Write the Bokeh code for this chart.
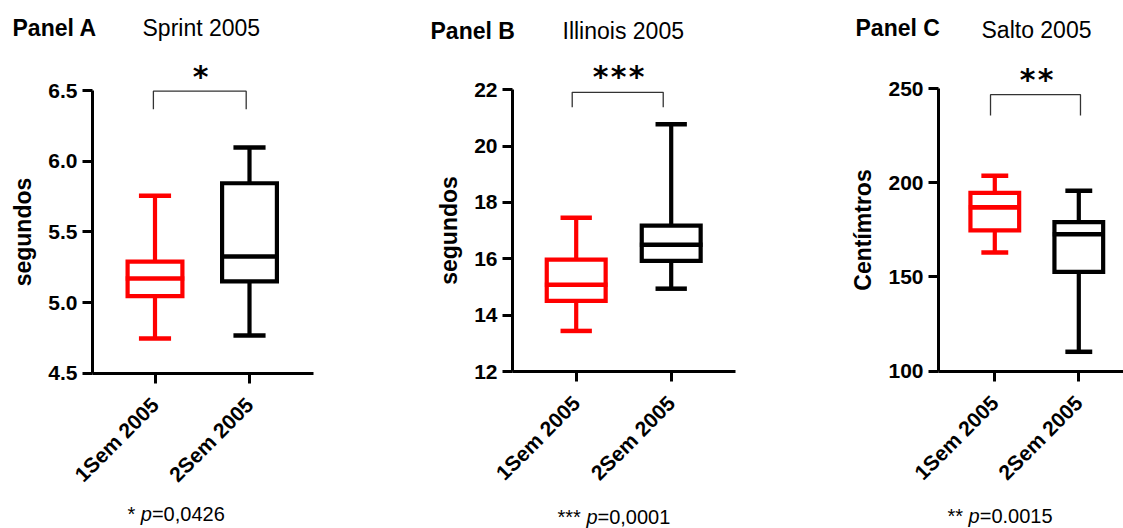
from bokeh.plotting import figure
from bokeh.models import Label, FixedTicker, Range1d
from bokeh.layouts import row
from bokeh.embed import file_html
from bokeh.resources import INLINE

# ---------------- data ----------------
groups = ["1Sem 2005", "2Sem 2005"]
group_x = [1, 2]
colors = ["#FF0000", "#000000"]

sprint_min = [4.745, 4.767]
sprint_q1 = [5.045, 5.149]
sprint_med = [5.170, 5.326]
sprint_q3 = [5.290, 5.844]
sprint_max = [5.755, 6.097]

illinois_min = [13.44, 14.94]
illinois_q1 = [14.51, 15.93]
illinois_med = [15.08, 16.50]
illinois_q3 = [15.97, 17.18]
illinois_max = [17.46, 20.78]

salto_min = [163.0, 110.3]
salto_q1 = [174.7, 152.7]
salto_med = [186.9, 172.7]
salto_q3 = [194.6, 179.1]
salto_max = [203.7, 195.7]

sprint_ticks = [4.5, 5.0, 5.5, 6.0, 6.5]
illinois_ticks = [12, 14, 16, 18, 20, 22]
salto_ticks = [100, 150, 200, 250]

panel_names = ["Panel A", "Panel B", "Panel C"]
panel_titles = ["Sprint 2005", "Illinois 2005", "Salto 2005"]
y_labels = ["segundos", "segundos", "Centímtros"]
stars = ["*", "***", "**"]
footnote_values = ["=0,0426", "=0,0001", "=0.0015"]

FONT = "Liberation Sans"
H = 528


def add_text(p, ox, px, py, text, size, style="normal", font=FONT, align="left"):
    # py is the desired visual baseline; compensate the renderer's baseline shift
    p.add_layout(Label(x=px - ox, y=H - py + 0.43 * size, x_units="screen", y_units="screen",
                       text=text, text_font=font, text_font_size=f"{size}px",
                       text_font_style=style, text_align=align,
                       text_baseline="alphabetic", text_color="black"))


def make_panel(cfg, mins, q1, med, q3, maxs, ticks, fmt):
    W, ox = cfg["width"], cfg["ox"]
    sx = cfg["spacing"]
    x_start = 1 - (cfg["cat1_px"] - ox) / sx
    x_end = x_start + W / sx

    def xd(px):
        return x_start + (px - ox) / sx

    v_lo, p_lo = ticks[0], cfg["ylo_px"]
    v_hi, p_hi = ticks[-1], cfg["yhi_px"]
    sy = (p_lo - p_hi) / (v_hi - v_lo)
    y_start = v_lo - (H - p_lo) / sy
    y_end = y_start + H / sy

    p = figure(width=W, height=H, output_backend="svg", toolbar_location=None,
               x_range=Range1d(x_start, x_end), y_range=Range1d(y_start, y_end),
               min_border=0, min_border_left=0, min_border_right=0,
               min_border_top=0, min_border_bottom=0,
               outline_line_color=None, background_fill_color="white",
               border_fill_color="white")
    p.xgrid.visible = False
    p.ygrid.visible = False

    bw = cfg["box_w"]
    cw = cfg["cap_w"]
    lw = 4.2
    for i in range(2):
        x = group_x[i]
        c = colors[i]
        p.segment(x0=[x, x], y0=[q3[i], q1[i]], x1=[x, x], y1=[maxs[i], mins[i]],
                  line_color=c, line_width=lw)
        p.segment(x0=[x - cw / 2, x - cw / 2], y0=[maxs[i], mins[i]],
                  x1=[x + cw / 2, x + cw / 2], y1=[maxs[i], mins[i]],
                  line_color=c, line_width=lw + 0.3)
        p.quad(left=[x - bw / 2], right=[x + bw / 2], top=[q3[i]], bottom=[q1[i]],
               fill_color="white", line_color=c, line_width=lw, line_join="miter")
        p.segment(x0=[x - bw / 2 - 0.02], y0=[med[i]], x1=[x + bw / 2 + 0.02], y1=[med[i]],
                  line_color=c, line_width=lw + 0.4)

    # significance bracket
    bx1, bx2 = cfg["br_x"]
    byt, byl = cfg["br_y"]
    p.line(x=[bx1, bx1, bx2, bx2], y=[byl, byt, byt, byl], line_color="#333333",
           line_width=1.3)

    # axes (drawn at fixed locations inside the frame)
    for ax in (p.xaxis, p.yaxis):
        ax.axis_line_width = 3
        ax.axis_line_color = "black"
        ax.major_tick_line_width = 3
        ax.major_tick_line_color = "black"
        ax.major_tick_in = 0
        ax.major_tick_out = 10
        ax.minor_tick_line_color = None
        ax.major_label_text_font = FONT
        ax.major_label_text_font_style = "bold"
        ax.major_label_text_font_size = "21px"
        ax.major_label_text_color = "black"
    p.yaxis.fixed_location = xd(cfg["yaxis_px"])
    p.yaxis.bounds = (v_lo, v_hi)
    p.yaxis.ticker = FixedTicker(ticks=ticks)
    p.yaxis.major_label_overrides = {t: fmt.format(t) for t in ticks}
    p.yaxis.major_label_standoff = 5
    p.yaxis.axis_label = cfg["ylabel"]
    p.yaxis.axis_label_text_font = FONT
    p.yaxis.axis_label_text_font_style = "bold"
    p.yaxis.axis_label_text_font_size = "23px"
    p.yaxis.axis_label_text_color = "black"
    p.yaxis.axis_label_standoff = 9

    p.xaxis.fixed_location = v_lo
    p.xaxis.bounds = (xd(cfg["yaxis_px"]), min(xd(cfg["xend_px"]), x_end))
    p.xaxis.ticker = FixedTicker(ticks=group_x)
    p.xaxis.major_label_overrides = {group_x[i]: groups[i] for i in range(2)}
    p.xaxis.major_label_orientation = 0.7854
    p.xaxis.major_label_standoff = 18

    # titles
    add_text(p, ox, cfg["name_xy"][0], cfg["name_xy"][1], cfg["name"], 23, "bold")
    add_text(p, ox, cfg["title_xy"][0], cfg["title_xy"][1], cfg["title"], 23)
    # stars above bracket
    n = len(cfg["stars"])
    cx, cy = cfg["star_xy"]
    for k in range(n):
        add_text(p, ox, cx + (k - (n - 1) / 2) * 18, cy, "*", 30, "bold",
                 font="DejaVu Sans", align="center")
    # footnote: stars, italic p, value
    fx, fy = cfg["foot_xy"]
    sw = (n * 0.389 + 0.278) * 20
    add_text(p, ox, fx, fy, cfg["stars"], 20)
    add_text(p, ox, fx + sw, fy, "p", 20, "italic")
    add_text(p, ox, fx + sw + 11.1, fy, cfg["fval"], 20)
    return p


cfgA = dict(width=420, ox=0, cat1_px=154.5, spacing=94.5, yaxis_px=92, xend_px=313,
            ylo_px=372.7, yhi_px=90.0,
            box_w=0.58, cap_w=0.34, br_x=(0.983, 1.965), br_y=(6.495, 6.367),
            ylabel=y_labels[0], name=panel_names[0], title=panel_titles[0],
            name_xy=(12, 37), title_xy=(142, 37), star_xy=(200, 89), stars=stars[0],
            foot_xy=(127, 522), fval=footnote_values[0])
cfgB = dict(width=425, ox=420, cat1_px=575.7, spacing=95.0, yaxis_px=512, xend_px=735,
            ylo_px=371.0, yhi_px=89.3,
            box_w=0.62, cap_w=0.33, br_x=(0.958, 1.916), br_y=(21.91, 21.38),
            ylabel=y_labels[1], name=panel_names[1], title=panel_titles[1],
            name_xy=(430, 40), title_xy=(562, 40), star_xy=(618, 89), stars=stars[1],
            foot_xy=(557, 525), fval=footnote_values[1])
cfgC = dict(width=278, ox=845, cat1_px=994.3, spacing=84.0, yaxis_px=938, xend_px=1130,
            ylo_px=370.7, yhi_px=88.0,
            box_w=0.58, cap_w=0.32, br_x=(0.949, 2.02), br_y=(246.7, 235.7),
            ylabel=y_labels[2], name=panel_names[2], title=panel_titles[2],
            name_xy=(855, 37), title_xy=(981, 39), star_xy=(1036, 92), stars=stars[2],
            foot_xy=(947, 524), fval=footnote_values[2])

pA = make_panel(cfgA, sprint_min, sprint_q1, sprint_med, sprint_q3, sprint_max,
                sprint_ticks, "{:.1f}")
pB = make_panel(cfgB, illinois_min, illinois_q1, illinois_med, illinois_q3, illinois_max,
                illinois_ticks, "{:.0f}")
pC = make_panel(cfgC, salto_min, salto_q1, salto_med, salto_q3, salto_max,
                salto_ticks, "{:.0f}")

layout = row(pA, pB, pC, spacing=0)
open("out.html", "w").write(file_html(layout, INLINE))
